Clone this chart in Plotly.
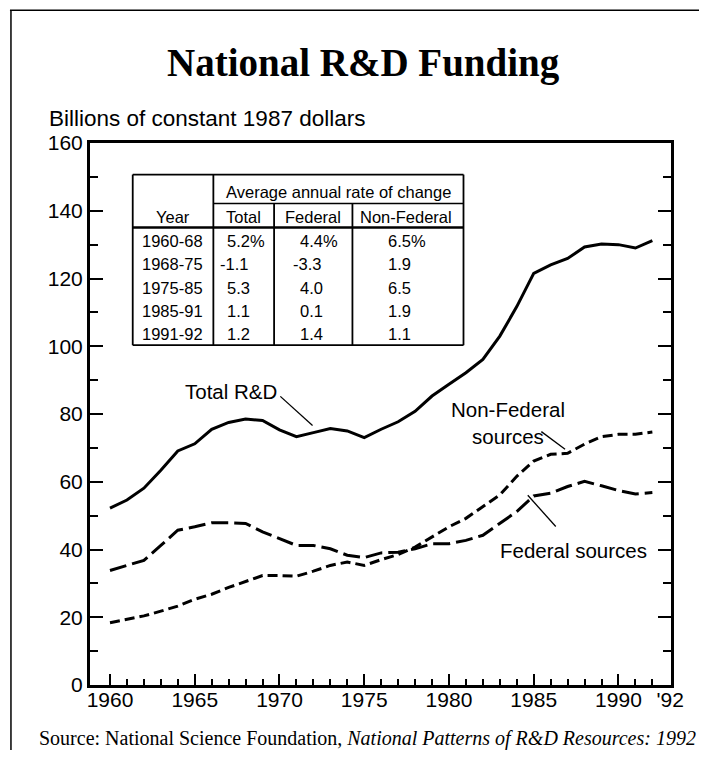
import plotly.graph_objects as go

# ---------------- data ----------------
years = list(range(1960, 1993))
total_rd = [52.2, 54.6, 58.1, 63.4, 69.1, 71.2, 75.5, 77.5, 78.5, 78.1,
            75.3, 73.3, 74.5, 75.7, 75.0, 73.0, 75.5, 77.7, 80.8, 85.3,
            88.8, 92.2, 96.1, 103.0, 111.7, 121.5, 124.0, 125.9, 129.3, 130.2,
            130.0, 129.0, 131.2]
federal = [33.8, 35.3, 36.8, 41.2, 45.7, 46.7, 47.9, 47.9, 47.7, 45.2,
           43.2, 41.2, 41.2, 40.2, 38.3, 37.6, 39.0, 39.2, 40.2, 41.7,
           41.7, 42.7, 44.2, 47.7, 51.2, 55.8, 56.6, 58.6, 60.1, 58.8,
           57.4, 56.4, 56.8]
non_federal = [18.4, 19.4, 20.4, 21.8, 23.3, 25.3, 26.8, 28.8, 30.5, 32.3,
               32.3, 32.1, 33.6, 35.3, 36.3, 35.3, 37.0, 38.5, 40.7, 43.7,
               46.7, 49.2, 52.7, 56.1, 61.6, 66.1, 68.1, 68.4, 71.1, 73.3,
               74.0, 74.0, 74.7]

x_tick_vals = [1960, 1965, 1970, 1975, 1980, 1985, 1990, 1993.05]
x_tick_text = ["1960", "1965", "1970", "1975", "1980", "1985", "1990", "'92"]
x_minor_vals = list(range(1960, 1993))
y_tick_vals = [0, 20, 40, 60, 80, 100, 120, 140, 160]

table_periods = ["1960-68", "1968-75", "1975-85", "1985-91", "1991-92"]
rate_total = [5.2, -1.1, 5.3, 1.1, 1.2]
rate_federal = [4.4, -3.3, 4.0, 0.1, 1.4]
rate_nonfederal = [6.5, 1.9, 6.5, 1.9, 1.1]
table_cols = ["Total", "Federal", "Non-Federal"]

title_text = "National R&D Funding"
y_title_text = "Billions of constant 1987 dollars"
source_text = "Source: National Science Foundation, <i>National Patterns of R&D Resources: 1992</i>"

# ---------------- layout geometry ----------------
# positions below are page pixels; the page body adds an 8px margin on every side
OFF = 8
W, H = 707 - 2 * OFF, 758 - 2 * OFF
PL, PR, PT, PB = 90, 670.7, 142.7, 685   # plot area in page pixels
FIG_R, FIG_B = OFF + W, OFF + H           # page pixel of figure right / bottom edge


def px(x):
    return (x - PL) / (PR - PL)


def py(y):
    return (PB - y) / (PB - PT)


SANS = "Liberation Sans, Arial, sans-serif"
SERIF = "Liberation Serif, Times New Roman, serif"

fig = go.Figure()
fig.add_trace(go.Scatter(x=years, y=total_rd, mode="lines", name="Total R&D",
                         line=dict(color="black", width=3)))
fig.add_trace(go.Scatter(x=years, y=federal, mode="lines", name="Federal sources",
                         line=dict(color="black", width=3, dash="17px,6px")))
fig.add_trace(go.Scatter(x=years, y=non_federal, mode="lines", name="Non-Federal sources",
                         line=dict(color="black", width=3, dash="10px,5px")))

shapes = []
annotations = []


def pline(x0, y0, x1, y1, w=1.5):
    shapes.append(dict(type="line", xref="paper", yref="paper",
                       x0=px(x0), y0=py(y0), x1=px(x1), y1=py(y1),
                       line=dict(color="black", width=w)))


def ptext(x, y, text, size, family=SANS, xanchor="center", **kw):
    annotations.append(dict(xref="paper", yref="paper", x=px(x), y=py(y), text=text,
                            showarrow=False, xanchor=xanchor, yanchor="middle",
                            font=dict(family=family, size=size, color="black"), **kw))


# outer frame (left and top); the top rule runs off the right edge of the figure
pline(11, 10, 11, FIG_B + 20, 1.5)
pline(10, 10, FIG_R + 30, 10, 1.5)

# title, axis title, source
ptext(363.5, 62.5, "<b>" + title_text + "</b>", 39, family=SERIF)
ptext(47, 118.5, y_title_text, 22.5, xanchor="left")
ptext(37, 738.5, source_text, 20, family=SERIF, xanchor="left")

# ---------------- table ----------------
TL, TR, TT, TB = 132.7, 463.3, 174.3, 345
c_year, c_tot, c_fed = 213.3, 274, 352.3
h1, h2 = 203.3, 227.3
pline(TL, TT, TR, TT, 1.8)
pline(TL, TB, TR, TB, 1.8)
pline(TL, TT, TL, TB, 1.8)
pline(TR, TT, TR, TB, 1.8)
pline(c_year, TT, c_year, TB, 1.8)
pline(c_year, h1, TR, h1, 1.5)
pline(c_tot, h1, c_tot, TB, 1.8)
pline(c_fed, h1, c_fed, TB, 1.8)
pline(TL, h2, TR, h2, 2.5)

TF = 16.5
ptext(338.3, 191.5, "Average annual rate of change", TF)
ptext(173, 217, "Year", TF)
for cx, name in zip([243.5, 312.5, 406], table_cols):
    ptext(cx, 217, name, TF)

row_y0, row_dy = 241, 23.2
col_starts = [224.5, 297.5, 386]
for i, period in enumerate(table_periods):
    yy = row_y0 + i * row_dy
    ptext(140, yy, period, TF, xanchor="left")
    for cs, series in zip(col_starts, [rate_total, rate_federal, rate_nonfederal]):
        v = series[i]
        s = f"{v:.1f}" + ("%" if i == 0 else "")
        x0 = cs - (7 if v < 0 else 0)
        ptext(x0, yy, s, TF, xanchor="left")


# ---------------- series labels and leader lines (data coords) ----------------
def dtext(x, y, text):
    annotations.append(dict(xref="x", yref="y", x=x, y=y, text=text, showarrow=False,
                            xanchor="center", yanchor="middle",
                            font=dict(family=SANS, size=20.5, color="black")))


def dline(x0, y0, x1, y1):
    shapes.append(dict(type="line", xref="x", yref="y", x0=x0, y0=y0, x1=x1, y1=y1,
                       line=dict(color="black", width=1.3)))


dtext(1967.15, 86.6, "Total R&D")
dline(1970.05, 85.2, 1971.95, 76.6)
dtext(1983.5, 77.3, "Non-Federal<br>sources")
dline(1985.45, 74.8, 1986.85, 69.6)
dtext(1987.35, 39.8, "Federal sources")
dline(1984.65, 56.0, 1986.3, 46.8)

axis_font = dict(family=SANS, size=21, color="black")
fig.update_layout(
    width=W, height=H,
    margin=dict(l=PL - OFF, r=FIG_R - PR, t=PT - OFF, b=FIG_B - PB, pad=0),
    paper_bgcolor="white", plot_bgcolor="white",
    showlegend=False,
    shapes=shapes, annotations=annotations,
    xaxis=dict(range=[1958.82, 1993.1], showgrid=False, zeroline=False,
               showline=True, linecolor="black", linewidth=3, mirror=True,
               ticks="inside", ticklen=11, tickwidth=1.8, tickcolor="black",
               tickmode="array", tickvals=x_tick_vals, ticktext=x_tick_text,
               tickfont=axis_font, ticklabelstandoff=-6,
               minor=dict(tickmode="array", tickvals=x_minor_vals, ticks="inside",
                          ticklen=6, tickwidth=1.5, tickcolor="black")),
    yaxis=dict(range=[0, 160], showgrid=False, zeroline=False,
               showline=True, linecolor="black", linewidth=3, mirror="ticks",
               ticks="inside", ticklen=13, tickwidth=1.8, tickcolor="black",
               tickmode="array", tickvals=y_tick_vals, tickfont=axis_font,
               minor=dict(dtick=10, ticks="inside", ticklen=8, tickwidth=1.5,
                          tickcolor="black")),
)

fig.write_html("out.html", config={"displayModeBar": False})
